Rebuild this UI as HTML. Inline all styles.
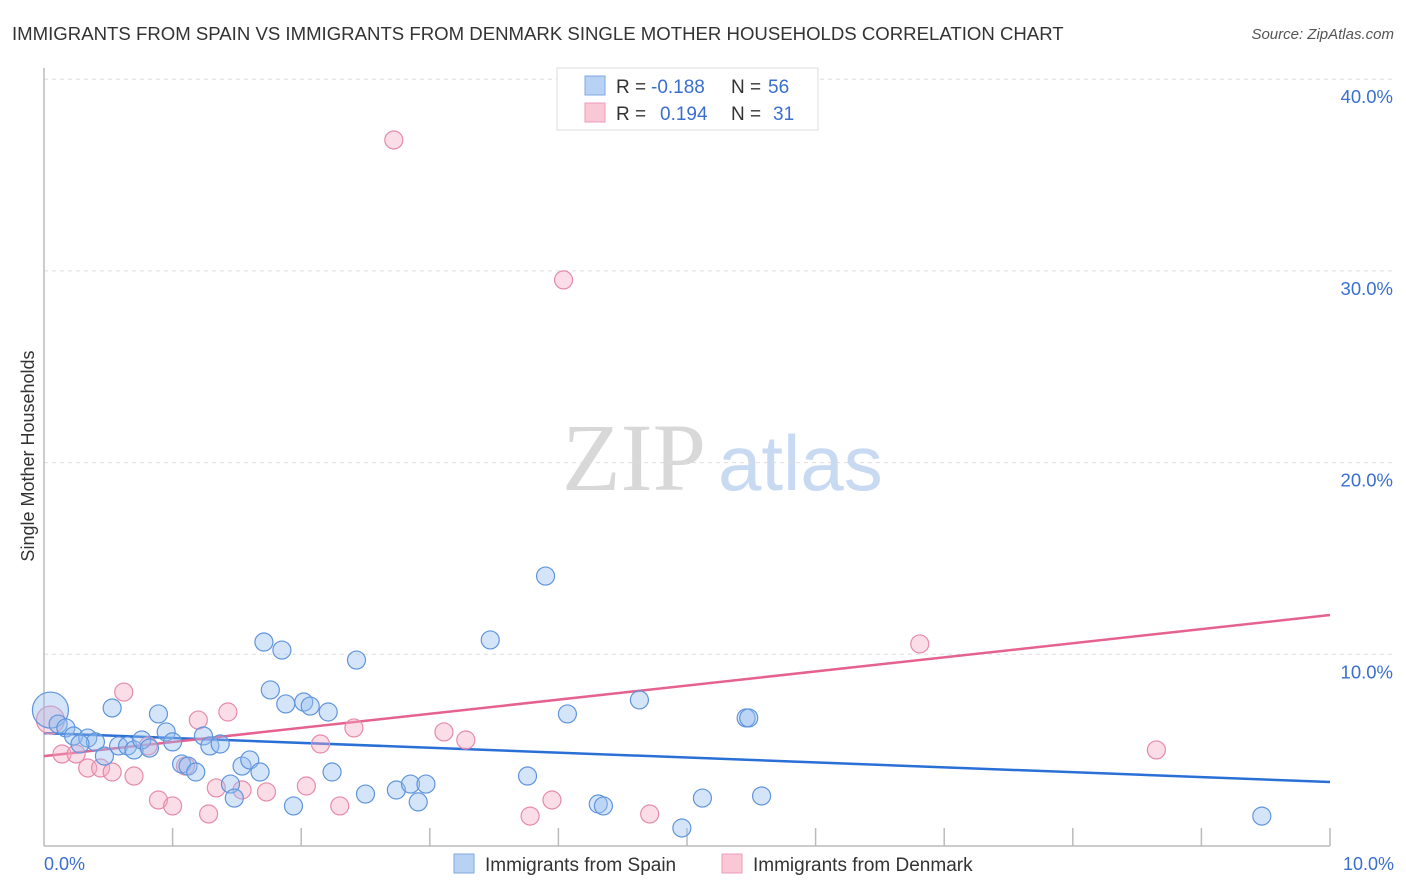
<!DOCTYPE html>
<html><head><meta charset="utf-8"><style>
body{margin:0;background:#fff;font-family:"Liberation Sans",sans-serif;}
svg{display:block}
</style></head><body>
<svg id="chart" width="1406" height="892">
<text x="12" y="40" font-size="18.6" fill="#333">IMMIGRANTS FROM SPAIN VS IMMIGRANTS FROM DENMARK SINGLE MOTHER HOUSEHOLDS CORRELATION CHART</text>
<text x="1394" y="39" font-size="15" fill="#555" font-style="italic" text-anchor="end">Source: ZipAtlas.com</text>
<g>
<text x="634" y="490" font-size="96" font-family="Liberation Serif,serif" fill="#d8d8d8" text-anchor="middle">ZIP</text>
<text x="718" y="490" font-size="78" fill="#c8d9f2">atlas</text>
</g>
<g id="grid"></g>
<g id="axes"></g>
<g id="lines"></g>
<g id="points"></g>
<text transform="translate(34,456) rotate(-90)" font-size="18" fill="#333" text-anchor="middle">Single Mother Households</text>
<text x="44" y="870" font-size="18" fill="#3a6fd0">0.0%</text>
<text x="1394" y="870" font-size="18" fill="#3a6fd0" text-anchor="end">10.0%</text>
<g>
<rect x="557" y="68" width="261" height="62" fill="#fff" stroke="#ddd"/>
<rect x="585" y="76" width="20" height="19" fill="#b8d2f4" stroke="#7fa8e0"/>
<rect x="585" y="103" width="20" height="19" fill="#f9c7d6" stroke="#ec9bb5"/>
<text x="616" y="93" font-size="19" fill="#333">R = <tspan fill="#3a6fd0" x="651">-0.188</tspan><tspan x="731">N = </tspan><tspan fill="#3a6fd0" x="768">56</tspan></text>
<text x="616" y="120" font-size="19" fill="#333">R = <tspan fill="#3a6fd0" x="660">0.194</tspan><tspan x="731">N = </tspan><tspan fill="#3a6fd0" x="773">31</tspan></text>
</g>
<g>
<rect x="454" y="854" width="20" height="19" fill="#b8d2f4" stroke="#7fa8e0"/>
<text x="485" y="871" font-size="19" fill="#333">Immigrants from Spain</text>
<rect x="722" y="854" width="20" height="19" fill="#f9c7d6" stroke="#ec9bb5"/>
<text x="753" y="871" font-size="19" fill="#333">Immigrants from Denmark</text>
</g>
</svg>
<script>
const yTicks=[10,20,30,40];
const yTickLabels=["10.0%","20.0%","30.0%","40.0%"];
const spainX=[.05,.11,.17,.23,.34,.40,.28,.47,.53,.58,.65,.70,.76,.82,.89,.95,1.00,1.07,1.12,1.18,1.24,1.29,1.37,1.45,1.48,1.54,1.60,1.68,1.71,1.76,1.85,1.88,1.94,2.02,2.07,2.21,2.24,2.43,2.50,2.74,2.85,2.91,2.97,3.47,3.76,3.90,4.07,4.31,4.35,4.63,4.96,5.12,5.46,5.48,5.58,9.47];
const spainY=[7.09,6.36,6.16,5.74,5.63,5.43,5.32,4.69,7.20,5.22,5.22,5.01,5.53,5.11,6.89,5.95,5.43,4.28,4.17,3.86,5.74,5.22,5.32,3.23,2.50,4.17,4.49,3.86,10.64,8.14,10.22,7.41,2.09,7.51,7.30,6.99,3.86,9.70,2.71,2.92,3.23,2.30,3.23,10.75,3.65,14.08,6.89,2.19,2.09,7.62,0.94,2.50,6.68,6.68,2.61,1.56];
const denX=[.05,.14,.25,.34,.44,.53,.62,.70,.81,.89,1.00,1.10,1.20,1.28,1.34,1.43,1.54,1.73,2.04,2.15,2.30,2.41,2.72,3.11,3.28,3.78,3.95,4.04,4.71,6.81,8.65];
const denY=[6.57,4.80,4.80,4.07,4.07,3.86,8.03,3.65,5.22,2.40,2.09,4.17,6.57,1.67,3.03,6.99,2.92,2.82,3.13,5.32,2.09,6.16,36.83,5.95,5.53,1.56,2.40,29.53,1.67,10.54,5.01];
const spainTrend=[5.89,3.34];
const denTrend=[4.69,12.05];
const NS="http://www.w3.org/2000/svg";
const sx=v=>44+v*128.6;
const sy=v=>846-v*19.17;
function mk(tag,attrs,parent){const e=document.createElementNS(NS,tag);for(const k in attrs)e.setAttribute(k,attrs[k]);document.getElementById(parent).appendChild(e);return e;}
yTicks.forEach((t,i)=>{
 const g=mk('line',{x1:44,x2:1394,y1:sy(t),y2:sy(t),stroke:'#ddd','stroke-dasharray':'4,4'},'grid');
 
 
 const tx=mk('text',{x:1393,y:sy(t)+24,'font-size':18.5,fill:'#3a6fd0','text-anchor':'end'},'grid');
 tx.textContent=yTickLabels[i];
 
 
});
const ax=mk('line',{x1:44,x2:44,y1:68,y2:846,stroke:'#bbb','stroke-width':1.5},'axes');


const bx=mk('line',{x1:44,x2:1330,y1:846,y2:846,stroke:'#bbb','stroke-width':1.5},'axes');


for(let k=1;k<=10;k++){
 const t=mk('line',{x1:sx(k),x2:sx(k),y1:828,y2:846,stroke:'#bbb','stroke-width':1.5},'axes');
 
 
}
function pts(xs,ys,fill,stroke,name){
 xs.forEach((x,i)=>{
  const big=i===0;
  const c=mk('circle',{cx:sx(x),cy:sy(ys[i]),r:big?(name==='spain-point'?18:14):9,fill:fill,stroke:stroke,'stroke-width':1.2},'points');
  
  
 });
}
pts(denX,denY,'rgba(246,170,196,0.4)','#e68aab','denmark-point');
pts(spainX,spainY,'rgba(150,190,240,0.4)','#5f95dd','spain-point');
const l1=mk('line',{x1:sx(0),y1:sy(spainTrend[0]),x2:sx(10),y2:sy(spainTrend[1]),stroke:'#2a6fd6','stroke-width':2.5},'lines');


const l2=mk('line',{x1:sx(0),y1:sy(denTrend[0]),x2:sx(10),y2:sy(denTrend[1]),stroke:'#e5628f','stroke-width':2.5},'lines');


</script>
</body></html>
